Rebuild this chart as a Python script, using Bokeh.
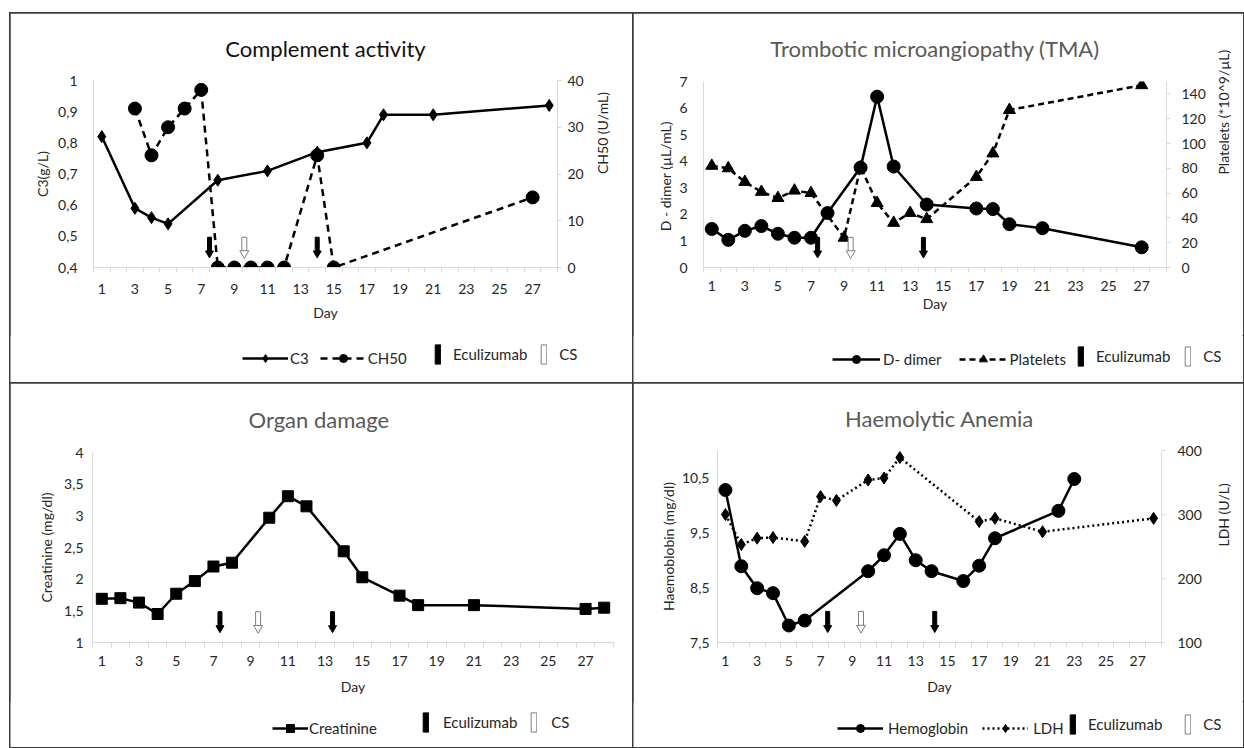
import math
from bokeh.plotting import figure
from bokeh.models import (Range1d, LinearAxis, FixedTicker, CustomJSTickFormatter,
                          Legend, LegendItem, ColumnDataSource, Spacer)
from bokeh.layouts import column, row
from bokeh.embed import file_html
from bokeh.resources import INLINE

FONT = "Lato"

# ---------------- data ----------------
day_tick_labels = list(range(1, 28, 2))          # 1, 3, ..., 27
n_days = 28

# Complement activity
c3_days = [1, 3, 4, 5, 8, 11, 14, 17, 18, 21, 28]
c3_vals = [0.82, 0.59, 0.56, 0.54, 0.68, 0.71, 0.77, 0.80, 0.89, 0.89, 0.92]
ch50_days = [3, 4, 5, 6, 7, 8, 9, 10, 11, 12, 14, 15, 27]
ch50_vals = [34, 24, 30, 34, 38, 0, 0, 0, 0, 0, 24, 0, 15]
ca_ecu_days = [7.5, 14.0]
ca_cs_days = [9.6]

# Trombotic microangiopathy
dd_days = [1, 2, 3, 4, 5, 6, 7, 8, 10, 11, 12, 14, 17, 18, 19, 21, 27]
dd_vals = [1.45, 1.04, 1.38, 1.56, 1.27, 1.12, 1.12, 2.05, 3.76, 6.43, 3.80, 2.37, 2.22, 2.20, 1.63, 1.48, 0.76]
plt_days = [1, 2, 3, 4, 5, 6, 7, 9, 10, 11, 12, 13, 14, 17, 18, 19, 27]
plt_vals = [82, 80, 69, 61, 56, 62, 60, 24, 81, 52, 36, 44, 39, 73, 92, 127, 147]
tma_ecu_days = [7.4, 13.8]
tma_cs_days = [9.4]

# Organ damage
cr_days = [1, 2, 3, 4, 5, 6, 7, 8, 10, 11, 12, 14, 15, 17, 18, 21, 27, 28]
cr_vals = [1.69, 1.70, 1.63, 1.45, 1.77, 1.97, 2.20, 2.26, 2.97, 3.31, 3.15, 2.44, 2.03, 1.74, 1.59, 1.59, 1.53, 1.55]
od_ecu_days = [7.35, 13.4]
od_cs_days = [9.4]

# Haemolytic anemia
hb_days = [1, 2, 3, 4, 5, 6, 10, 11, 12, 13, 14, 16, 17, 18, 22, 23]
hb_vals = [10.28, 8.89, 8.49, 8.40, 7.81, 7.90, 8.80, 9.09, 9.48, 9.00, 8.80, 8.62, 8.90, 9.40, 9.90, 10.48]
ldh_days = [1, 2, 3, 4, 6, 7, 8, 10, 11, 12, 17, 18, 21, 28]
ldh_vals = [300, 253, 263, 264, 258, 328, 322, 354, 357, 389, 289, 294, 273, 294]
ha_ecu_days = [7.45, 14.2]
ha_cs_days = [9.55]

# ---------------- helpers ----------------
AXIS_GRAY = "#d9d9d9"
TICK_COLOR = "#262626"
LABEL_COLOR = "#262626"
BORDER = {"outline": "2px solid #3c3c3c", "outline-offset": "-1px"}
NAN = [float("nan")]   # legend-key renderers draw nothing on the canvas


def comma_fmt():
    return CustomJSTickFormatter(
        code="var v = Math.round(tick*100)/100; return String(v).replace('.', ',');")


def base_panel(width, height, border, yr, title, title_color, title_align, title_offset, title_standoff):
    left, right, top, bottom = border
    p = figure(width=width, height=height, x_range=Range1d(0.5, n_days + 0.5),
               y_range=Range1d(*yr), x_axis_type=None, y_axis_type=None,
               output_backend="svg", toolbar_location=None,
               min_border_left=left, min_border_right=right,
               min_border_top=top, min_border_bottom=bottom,
               background_fill_color="white", border_fill_color="white")
    p.frame_align = False
    p.outline_line_color = None
    p.title.text = title
    p.title.text_font = FONT
    p.title.text_font_size = "22px"
    p.title.text_font_style = "normal"
    p.title.text_color = title_color
    p.title.align = title_align
    p.title.offset = title_offset
    p.title.standoff = title_standoff
    return p


def legend_fig(width, height):
    lf = figure(width=width, height=height, x_range=Range1d(0, 1), y_range=Range1d(0, 1),
                x_axis_type=None, y_axis_type=None, output_backend="svg", toolbar_location=None,
                min_border=0, min_border_left=0, min_border_right=0, min_border_top=0, min_border_bottom=0,
                background_fill_color="white", border_fill_color="white", title=None)
    lf.frame_align = False
    lf.outline_line_color = None
    return lf


def style_text(ax, size="14px"):
    ax.major_label_text_font = FONT
    ax.major_label_text_font_size = size
    ax.major_label_text_color = TICK_COLOR
    ax.axis_label_text_font = FONT
    ax.axis_label_text_font_size = "14px"
    ax.axis_label_text_font_style = "normal"
    ax.axis_label_text_color = LABEL_COLOR


def add_x_axis(p, lab_standoff, title_standoff):
    minor = [d + 0.5 for d in range(0, n_days + 1)]
    ax = LinearAxis(ticker=FixedTicker(ticks=day_tick_labels, minor_ticks=minor), axis_label="Day")
    ax.axis_line_color = AXIS_GRAY
    ax.major_tick_line_color = None
    ax.major_tick_out = 0
    ax.major_tick_in = 0
    ax.minor_tick_line_color = AXIS_GRAY
    ax.minor_tick_out = 5
    ax.minor_tick_in = 0
    ax.major_label_standoff = lab_standoff
    ax.axis_label_standoff = title_standoff
    style_text(ax)
    p.add_layout(ax, "below")


def add_y_axis(p, side, ticks, label, lab_standoff, title_standoff, range_name="default"):
    ax = LinearAxis(ticker=FixedTicker(ticks=ticks), axis_label=label,
                    formatter=comma_fmt(), y_range_name=range_name)
    ax.axis_line_color = AXIS_GRAY
    ax.minor_tick_line_color = None
    if side == "right":
        ax.major_tick_line_color = AXIS_GRAY
        ax.major_tick_out = 4
        ax.major_tick_in = 0
        try:
            ax.axis_label_orientation = math.pi / 2
        except Exception:
            pass
    else:
        ax.major_tick_line_color = None
        ax.major_tick_out = 0
        ax.major_tick_in = 0
    ax.major_label_standoff = lab_standoff
    ax.axis_label_standoff = title_standoff
    style_text(ax)
    p.add_layout(ax, side)
    return ax


def add_arrows(p, days, yr, filled):
    y0, y1 = yr
    span = y1 - y0
    top, bot, head = y0 + 0.162 * span, y0 + 0.085 * span, y0 + 0.076 * span
    n = len(days)
    src = ColumnDataSource(dict(x=days, ys=[(top + bot) / 2] * n, h=[top - bot] * n, yh=[head] * n))
    fill = "black" if filled else "white"
    line = "black" if filled else "#7f7f7f"
    p.rect("x", "ys", width=4 if filled else 5, height="h", width_units="screen",
           source=src, fill_color=fill, line_color=line, line_width=1)
    p.scatter("x", "yh", marker="inverted_triangle", size=8 if filled else 9, source=src,
              fill_color=fill, line_color=line, line_width=1)


def key_series(lf, marker, dash, size):
    kw = dict(line_dash=dash) if dash else {}
    ln = lf.line(x=NAN, y=NAN, line_color="black", line_width=2.5, **kw)
    mk = lf.scatter(x=NAN, y=NAN, marker=marker, size=size, fill_color="black", line_color="black")
    return [ln, mk]


def key_arrow(lf, filled):
    fill = "black" if filled else "white"
    line = "black" if filled else "#7f7f7f"
    return [lf.rect(x=NAN, y=NAN, width=1, height=1, fill_color=fill, line_color=line, line_width=1)]


def add_legend(lf, items, loc, glyph_w, glyph_h, standoff, spacing):
    lg = Legend(items=[LegendItem(label=lab, renderers=rs) for lab, rs in items], location=loc,
                orientation="horizontal", glyph_width=glyph_w, glyph_height=glyph_h,
                label_standoff=standoff, padding=0, margin=0, spacing=spacing,
                border_line_color=None, background_fill_alpha=0,
                label_text_font=FONT, label_text_font_size="15px", label_text_color=LABEL_COLOR,
                label_height=glyph_h, label_width=0)
    lf.add_layout(lg, "center")


def arrow_keys(lf):
    return key_arrow(lf, True), key_arrow(lf, False)


# ---------------- Panel 1: Complement activity ----------------
yr1 = (0.4, 1.0)
p1 = base_panel(623, 322, (83, 76, 64, 68), yr1, "Complement activity", "#111111", "center", 0, 38)
p1.extra_y_ranges = {"r": Range1d(0, 40)}
add_x_axis(p1, 11, 7)
add_y_axis(p1, "left", [0.4, 0.5, 0.6, 0.7, 0.8, 0.9, 1.0], "C3(g/L)", 16, 4)
add_y_axis(p1, "right", [0, 10, 20, 30, 40], "CH50 (U/mL)", 6, 16, "r")
s_c3 = ColumnDataSource(dict(x=c3_days, y=c3_vals))
s_ch = ColumnDataSource(dict(x=ch50_days, y=ch50_vals))
p1.line("x", "y", source=s_c3, line_color="black", line_width=2.5)
p1.scatter("x", "y", source=s_c3, marker="diamond", size=12, fill_color="black", line_color="black")
p1.line("x", "y", source=s_ch, line_color="black", line_width=2.5, line_dash="7 5", y_range_name="r")
p1.scatter("x", "y", source=s_ch, marker="circle", size=13, fill_color="black", line_color="black",
           y_range_name="r")
add_arrows(p1, ca_ecu_days, yr1, True)
add_arrows(p1, ca_cs_days, yr1, False)
k1 = legend_fig(623, 48)
ea, ca = arrow_keys(k1)
add_legend(k1, [("C3", key_series(k1, "diamond", None, 12)), ("CH50", key_series(k1, "circle", "7 5", 13))],
           (232, 15), 46, 20, 2, 11)
add_legend(k1, [("Eculizumab", ea), ("CS", ca)], (424, 17), 7, 24, 12, 13)
panel1 = column(p1, k1, spacing=0, styles=BORDER)

# ---------------- Panel 2: TMA ----------------
yr2 = (0, 7)
p2 = base_panel(610, 322, (70, 75, 66, 68), yr2, "Trombotic microangiopathy (TMA)", "#595959", "center", 0, 39)
p2.extra_y_ranges = {"r": Range1d(0, 150)}
add_x_axis(p2, 8, 1)
add_y_axis(p2, "left", list(range(0, 8)), "D - dimer  (\u00b5L/mL)", 16, 2)
add_y_axis(p2, "right", list(range(0, 141, 20)), "Platelets (*10^9/\u00b5L)", 11, 15, "r")
s_dd = ColumnDataSource(dict(x=dd_days, y=dd_vals))
s_pl = ColumnDataSource(dict(x=plt_days, y=plt_vals))
p2.line("x", "y", source=s_pl, line_color="black", line_width=2.5, line_dash="6 4", y_range_name="r")
p2.scatter("x", "y", source=s_pl, marker="triangle", size=12, fill_color="black", line_color="black",
           y_range_name="r")
p2.line("x", "y", source=s_dd, line_color="black", line_width=2.5)
p2.scatter("x", "y", source=s_dd, marker="circle", size=13, fill_color="black", line_color="black")
add_arrows(p2, tma_ecu_days, yr2, True)
add_arrows(p2, tma_cs_days, yr2, False)
k2 = legend_fig(610, 48)
ea, ca = arrow_keys(k2)
add_legend(k2, [("D- dimer", key_series(k2, "circle", None, 13)),
                ("Platelets", key_series(k2, "triangle", "6 4", 12))], (199, 14), 48, 20, 3, 17)
add_legend(k2, [("Eculizumab", ea), ("CS", ca)], (444, 15), 7, 24, 12, 14)
panel2 = column(p2, k2, spacing=0, styles=BORDER)

# ---------------- Panel 3: Organ damage ----------------
yr3 = (1, 4)
p3 = base_panel(623, 318, (82, 20, 67, 59), yr3, "Organ damage", "#595959", "left", 156, 40)
add_x_axis(p3, 8, 9)
add_y_axis(p3, "left", [1, 1.5, 2, 2.5, 3, 3.5, 4], "Creatinine (mg/dl)", 9, 6)
s_cr = ColumnDataSource(dict(x=cr_days, y=cr_vals))
p3.line("x", "y", source=s_cr, line_color="black", line_width=2.5)
p3.scatter("x", "y", source=s_cr, marker="square", size=11, fill_color="black", line_color="black")
add_arrows(p3, od_ecu_days, yr3, True)
add_arrows(p3, od_cs_days, yr3, False)
k3 = legend_fig(623, 46)
ea, ca = arrow_keys(k3)
add_legend(k3, [("Creatinine", key_series(k3, "square", None, 11))], (262, 9), 36, 20, 1, 0)
add_legend(k3, [("Eculizumab", ea), ("CS", ca)], (412, 13), 7, 24, 14, 13)
panel3 = column(p3, k3, spacing=0, styles=BORDER)

# ---------------- Panel 4: Haemolytic anemia ----------------
yr4 = (7.5, 11)
p4 = base_panel(610, 318, (84, 74, 65, 59), yr4, "Haemolytic Anemia", "#595959", "center", 0, 38)
p4.extra_y_ranges = {"r": Range1d(100, 400)}
add_x_axis(p4, 8, 9)
add_y_axis(p4, "left", [7.5, 8.5, 9.5, 10.5], "Haemoblobin (mg/dl)", 8, 2)
add_y_axis(p4, "right", [100, 200, 300, 400], "LDH (U/L)", 12, 19, "r")
s_hb = ColumnDataSource(dict(x=hb_days, y=hb_vals))
s_ld = ColumnDataSource(dict(x=ldh_days, y=ldh_vals))
p4.line("x", "y", source=s_ld, line_color="black", line_width=2.5, line_dash="2 3", y_range_name="r")
p4.scatter("x", "y", source=s_ld, marker="diamond", size=12, fill_color="black", line_color="black",
           y_range_name="r")
p4.line("x", "y", source=s_hb, line_color="black", line_width=2.5)
p4.scatter("x", "y", source=s_hb, marker="circle", size=13, fill_color="black", line_color="black")
add_arrows(p4, ha_ecu_days, yr4, True)
add_arrows(p4, ha_cs_days, yr4, False)
k4 = legend_fig(610, 46)
ea, ca = arrow_keys(k4)
add_legend(k4, [("Hemoglobin", key_series(k4, "circle", None, 13)),
                ("LDH", key_series(k4, "diamond", "2 3", 12))], (204, 9), 46, 20, 5, 14)
add_legend(k4, [("Eculizumab", ea), ("CS", ca)], (436, 11), 7, 24, 12, 22)
panel4 = column(p4, k4, spacing=0, styles=BORDER)

layout = column(Spacer(height=13),
                row(Spacer(width=10), column(row(panel1, panel2, spacing=0),
                                             row(panel3, panel4, spacing=0), spacing=0), spacing=0),
                spacing=0)

open("out.html", "w").write(file_html(layout, INLINE))
